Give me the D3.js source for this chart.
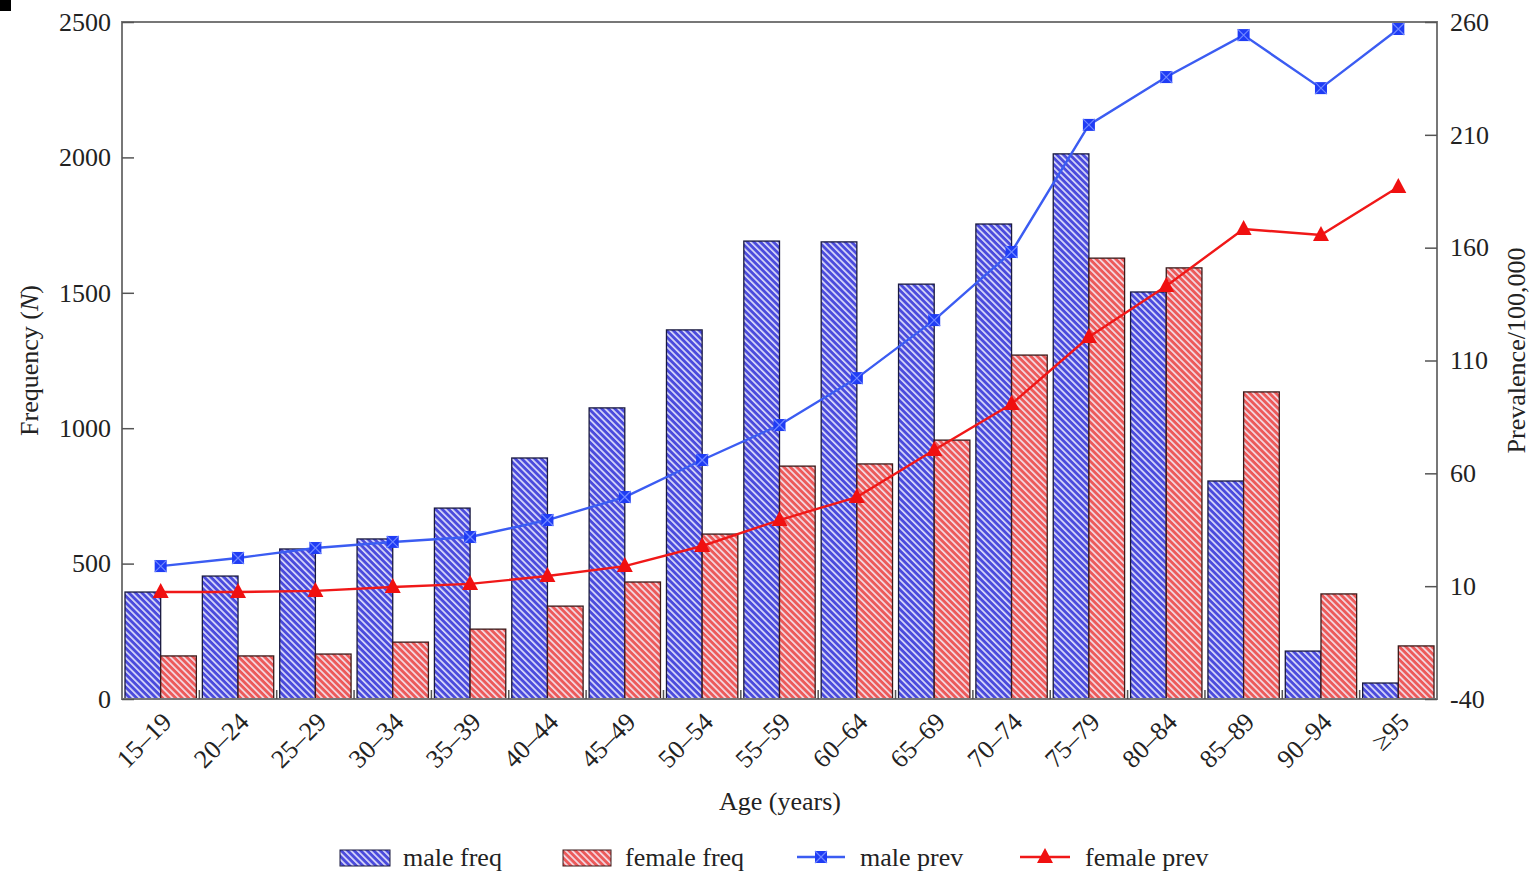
<!DOCTYPE html>
<html>
<head>
<meta charset="utf-8">
<script src="https://cdn.jsdelivr.net/npm/d3@7"></script>
<style>
  html, body { margin: 0; padding: 0; background: #fff; }
  svg { display: block; }
  text { font-family: "Liberation Serif", "DejaVu Serif", serif; fill: #222; }
</style>
</head>
<body>
<svg id="chart" width="1532" height="874"></svg>
<script>
// Age groups and series
const ageGroups = ["15–19","20–24","25–29","30–34","35–39","40–44","45–49","50–54","55–59",
                   "60–64","65–69","70–74","75–79","80–84","85–89","90–94","≥95"];
const maleFreq   = [395, 454, 554, 591, 705, 890, 1075, 1363, 1691, 1688, 1532, 1754, 2013, 1503, 805, 177, 59];
const femaleFreq = [159, 159, 166, 210, 258, 343, 432, 609, 860, 868, 956, 1270, 1628, 1592, 1134, 388, 196];
const malePrev   = [18.9, 22.5, 26.9, 29.6, 31.8, 39.3, 49.5, 65.9, 81.4, 102.2, 127.9, 158.1, 214.4, 235.6, 254.2, 230.7, 256.9];
const femalePrev = [7.4, 7.4, 7.9, 9.6, 11.0, 14.5, 18.9, 27.8, 39.3, 49.5, 70.3, 90.7, 120.4, 143.0, 168.3, 165.6, 186.9];
const freqTicks = [0, 500, 1000, 1500, 2000, 2500];
const prevTicks = [-40, 10, 60, 110, 160, 210, 260];
const legendLabels = ["male freq", "female freq", "male prev", "female prev"];

const svg = d3.select("#chart");
const plotL = 122, plotR = 1437, plotT = 22, plotB = 699;
const frameColor = "#777";
const fontSize = "26px";

// Hatch patterns for bars
const defs = svg.append("defs");
function hatch(id, base) {
  const p = defs.append("pattern")
    .attr("id", id).attr("patternUnits", "userSpaceOnUse")
    .attr("width", 4.6).attr("height", 4.6)
    .attr("patternTransform", "rotate(-45)");
  p.append("rect").attr("width", 4.6).attr("height", 4.6).attr("fill", base);
  p.append("rect").attr("x", 0).attr("width", 1.7).attr("height", 4.6).attr("fill", "#f4f4ff").attr("opacity", 0.85);
}
hatch("hatchBlue", "#4b4bdc");
hatch("hatchRed", "#ec5a5a");

const x = d3.scaleBand().domain(ageGroups).range([plotL, plotR]).padding(0);
const yL = d3.scaleLinear().domain([0, 2500]).range([plotB, plotT]);
const yR = d3.scaleLinear().domain([-40, 260]).range([plotB, plotT]);
const bw = x.bandwidth();
const gap = 3;

// Bars
const bars = svg.append("g");
bars.selectAll("rect.male").data(maleFreq).join("rect")
  .attr("x", (d, i) => x(ageGroups[i]) + gap)
  .attr("y", d => yL(d))
  .attr("width", bw / 2 - gap)
  .attr("height", d => yL(0) - yL(d))
  .attr("fill", "url(#hatchBlue)")
  .attr("stroke", "#1a1a40").attr("stroke-width", 1.3);
bars.selectAll("rect.female").data(femaleFreq).join("rect")
  .attr("x", (d, i) => x(ageGroups[i]) + bw / 2)
  .attr("y", d => yL(d))
  .attr("width", bw / 2 - gap)
  .attr("height", d => yL(0) - yL(d))
  .attr("fill", "url(#hatchRed)")
  .attr("stroke", "#3a1a1a").attr("stroke-width", 1.3);

// Frame
svg.append("rect").attr("x", plotL).attr("y", plotT)
  .attr("width", plotR - plotL).attr("height", plotB - plotT)
  .attr("fill", "none").attr("stroke", frameColor).attr("stroke-width", 2);

// Left axis
const axL = svg.append("g").attr("transform", `translate(${plotL},0)`)
  .call(d3.axisLeft(yL).tickValues(freqTicks).tickSize(-12).tickPadding(11).tickFormat(d3.format("d")));
axL.select(".domain").remove();
axL.selectAll(".tick line").attr("stroke", "#555").attr("stroke-width", 1.5);
axL.selectAll(".tick text").style("font-size", fontSize).attr("fill", "#222");

// Right axis
const axR = svg.append("g").attr("transform", `translate(${plotR},0)`)
  .call(d3.axisRight(yR).tickValues(prevTicks).tickSize(-12).tickPadding(13)
    .tickFormat(d => d < 0 ? "-" + Math.abs(d) : String(d)));
axR.select(".domain").remove();
axR.selectAll(".tick line").attr("stroke", "#555").attr("stroke-width", 1.5);
axR.selectAll(".tick text").style("font-size", fontSize).attr("fill", "#222");

// Bottom axis: ticks at band boundaries, labels at centres
const bounds = ageGroups.slice(1).map(g => x(g));
svg.append("g").selectAll("line").data(bounds).join("line")
  .attr("x1", d => d).attr("x2", d => d)
  .attr("y1", plotB).attr("y2", plotB - 9)
  .attr("stroke", "#555").attr("stroke-width", 1.5);
svg.append("g").selectAll("text").data(ageGroups).join("text")
  .attr("transform", d => `translate(${x(d) + bw / 2 + 6},${plotB + 18}) rotate(-45)`)
  .attr("text-anchor", "end")
  .attr("dy", "0.35em")
  .style("font-size", fontSize)
  .text(d => d);

// Lines
const cx = i => x(ageGroups[i]) + bw / 2;
svg.append("path").datum(malePrev)
  .attr("d", d3.line().x((d, i) => cx(i)).y(d => yR(d)))
  .attr("fill", "none").attr("stroke", "#3b5cf2").attr("stroke-width", 2.4);
svg.append("path").datum(femalePrev)
  .attr("d", d3.line().x((d, i) => cx(i)).y(d => yR(d)))
  .attr("fill", "none").attr("stroke", "#f01818").attr("stroke-width", 2.4);

function squareMarker(g, px, py) {
  const s = 6;
  g.append("rect").attr("x", px - s).attr("y", py - s).attr("width", 2 * s).attr("height", 2 * s)
    .attr("fill", "#1f3cf5");
  g.append("path").attr("d", `M${px - s},${py - s}L${px + s},${py + s}M${px + s},${py - s}L${px - s},${py + s}`)
    .attr("stroke", "#6f86ff").attr("stroke-width", 1.2);
}
function triMarker(g, px, py) {
  const s = 8;
  g.append("path").attr("d", `M${px},${py - s - 1}L${px + s},${py + s - 2}L${px - s},${py + s - 2}Z`)
    .attr("fill", "#f01010");
}
const mk = svg.append("g");
malePrev.forEach((d, i) => squareMarker(mk, cx(i), yR(d)));
femalePrev.forEach((d, i) => triMarker(mk, cx(i), yR(d)));

// Axis titles
const tL = svg.append("text")
  .attr("transform", `translate(38,${(plotT + plotB) / 2}) rotate(-90)`)
  .attr("text-anchor", "middle").style("font-size", fontSize);
tL.append("tspan").text("Frequency (");
tL.append("tspan").style("font-style", "italic").text("N");
tL.append("tspan").text(")");
svg.append("text")
  .attr("transform", `translate(1525,${(plotT + plotB) / 2 - 10}) rotate(-90)`)
  .attr("text-anchor", "middle").style("font-size", fontSize)
  .text("Prevalence/100,000");
svg.append("text")
  .attr("x", 780).attr("y", 810)
  .attr("text-anchor", "middle").style("font-size", fontSize)
  .text("Age (years)");

// Legend
const lg = svg.append("g");
const lx = [340, 563, 797, 1020];
lg.append("rect").attr("x", lx[0]).attr("y", 850).attr("width", 50).attr("height", 16)
  .attr("fill", "url(#hatchBlue)").attr("stroke", "#1a1a40");
lg.append("rect").attr("x", lx[1]).attr("y", 850).attr("width", 48).attr("height", 16)
  .attr("fill", "url(#hatchRed)").attr("stroke", "#3a1a1a");
lg.append("line").attr("x1", lx[2]).attr("x2", lx[2] + 48).attr("y1", 857).attr("y2", 857)
  .attr("stroke", "#3b5cf2").attr("stroke-width", 2.4);
squareMarker(lg, lx[2] + 24, 857);
lg.append("line").attr("x1", lx[3]).attr("x2", lx[3] + 50).attr("y1", 857).attr("y2", 857)
  .attr("stroke", "#f01818").attr("stroke-width", 2.4);
triMarker(lg, lx[3] + 25, 857);
const tx = [403, 625, 860, 1085];
legendLabels.forEach((t, i) => {
  lg.append("text").attr("x", tx[i]).attr("y", 866).style("font-size", fontSize).text(t);
});

// Corner mark
svg.append("rect").attr("x", 0).attr("y", 0).attr("width", 11).attr("height", 11).attr("fill", "#000");
</script>
</body>
</html>
